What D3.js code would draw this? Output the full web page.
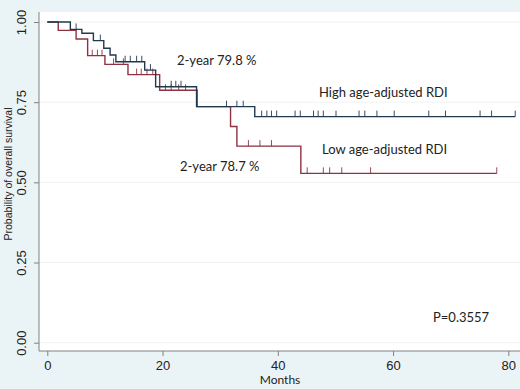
<!DOCTYPE html>
<html>
<head>
<meta charset="utf-8">
<script src="https://cdn.jsdelivr.net/npm/d3@7"></script>
<style>
  body { margin: 0; background: #eaf4f6; }
  svg { display: block; }
</style>
</head>
<body>
<svg class="chart"></svg>
<script>
// event times (months) and survival after each event
const highTimes = [4.0, 6.0, 8.0, 9.8, 10.9, 11.9, 16.9, 18.8, 25.9, 36.0];
const highSurv  = [0.977, 0.965, 0.942, 0.918, 0.897, 0.876, 0.850, 0.798, 0.736, 0.705];
const highCensor = [5.0, 9.2, 13.5, 14.4, 15.5, 16.4, 17.9, 21.5, 22.3, 23.2, 31.1, 32.9, 34.0,
  37.2, 38.1, 38.9, 39.8, 43.0, 43.9, 46.2, 47.0, 47.9, 50.1, 54.1, 55.1, 57.2, 60.2,
  66.2, 69.1, 75.1, 77.1, 81.2];

const lowTimes = [1.9, 5.0, 7.0, 10.0, 14.0, 19.5, 26.0, 31.8, 32.9, 44.0];
const lowSurv  = [0.974, 0.947, 0.895, 0.868, 0.836, 0.787, 0.736, 0.674, 0.613, 0.528];
const lowCensor = [7.8, 8.7, 9.5, 11.5, 13.2, 15.5, 16.3, 17.3, 18.3, 20.5, 21.5, 22.8, 24.0,
  34.9, 36.9, 38.9, 45.1, 47.9, 49.0, 51.1, 56.1, 78.0];

const xTicks = [0, 20, 40, 60, 80];
const yTicks = [0, 0.25, 0.5, 0.75, 1];

const width = 520, height = 389;
const svg = d3.select('.chart').attr('width', width).attr('height', height);

const x = d3.scaleLinear().domain([0, 80]).range([47.3, 508.3]);
const y = d3.scaleLinear().domain([0, 1]).range([342.7, 22]);

// plot region
const plotLeft = 39, plotTop = 12, plotRight = 520, plotBottom = 351;
svg.append('rect')
  .attr('x', plotLeft).attr('y', plotTop)
  .attr('width', plotRight - plotLeft).attr('height', plotBottom - plotTop)
  .attr('fill', '#ffffff');

// faint gridlines
svg.selectAll('.grid').data(yTicks).enter().append('line')
  .attr('x1', plotLeft).attr('x2', plotRight)
  .attr('y1', d => y(d)).attr('y2', d => y(d))
  .attr('stroke', '#f1f4f4').attr('stroke-width', 1);

// axes
const yAxis = svg.append('g')
  .attr('transform', `translate(${plotLeft},0)`)
  .call(d3.axisLeft(y).tickValues(yTicks).tickFormat(d3.format('.2f')).tickSize(5).tickSizeOuter(0));
yAxis.select('.domain').attr('d', `M0,${plotTop}V${plotBottom}`).attr('stroke', '#808080');
yAxis.selectAll('.tick line').attr('stroke', '#808080');
yAxis.selectAll('.tick text')
  .attr('transform', 'rotate(-90)')
  .attr('x', 0).attr('y', -13).attr('dy', 0)
  .attr('text-anchor', 'middle')
  .style('font-family', 'Liberation Sans, Arial, sans-serif')
  .style('font-size', '13px')
  .attr('fill', '#222');

const xAxis = svg.append('g')
  .attr('transform', `translate(0,${plotBottom})`)
  .call(d3.axisBottom(x).tickValues(xTicks).tickSize(5).tickSizeOuter(0));
xAxis.select('.domain').attr('d', `M${plotLeft},0H${plotRight}`).attr('stroke', '#808080');
xAxis.selectAll('.tick line').attr('stroke', '#808080');
xAxis.selectAll('.tick text')
  .attr('y', 10)
  .style('font-family', 'Liberation Sans, Arial, sans-serif')
  .style('font-size', '13px')
  .attr('fill', '#222');

svg.append('text')
  .attr('x', 280).attr('y', 384)
  .attr('text-anchor', 'middle')
  .style('font-family', 'Lato, sans-serif').style('font-size', '12px')
  .attr('fill', '#222')
  .text('Months');

svg.append('text')
  .attr('transform', 'translate(12,174) rotate(-90)')
  .attr('text-anchor', 'middle')
  .style('font-family', 'Liberation Sans, Arial, sans-serif').style('font-size', '10.5px')
  .attr('fill', '#222')
  .text('Probability of overall survival');

// survival curves
function survAt(times, surv, t) {
  let s = 1;
  times.forEach((tt, i) => { if (tt <= t) s = surv[i]; });
  return s;
}

const line = d3.line().x(d => x(d[0])).y(d => y(d[1])).curve(d3.curveStepAfter);

function drawCurve(times, surv, censor, color) {
  const end = d3.max(censor.concat(times));
  const pts = [[0, 1]].concat(times.map((t, i) => [t, surv[i]]));
  pts.push([end, surv[surv.length - 1]]);
  svg.append('path')
    .datum(pts)
    .attr('d', line)
    .attr('fill', 'none')
    .attr('stroke', color)
    .attr('stroke-width', 1.4);
  svg.selectAll(null).data(censor).enter().append('line')
    .attr('x1', d => x(d)).attr('x2', d => x(d))
    .attr('y1', d => y(survAt(times, surv, d)))
    .attr('y2', d => y(survAt(times, surv, d)) - 6)
    .attr('stroke', color)
    .attr('stroke-width', 0.9);
}

drawCurve(lowTimes, lowSurv, lowCensor, '#8e3141');
drawCurve(highTimes, highSurv, highCensor, '#22384f');

// annotations
const notes = [
  { text: '2-year 79.8 %', x: 177, y: 65 },
  { text: 'High age-adjusted RDI', x: 319, y: 97 },
  { text: 'Low age-adjusted RDI', x: 322, y: 154 },
  { text: '2-year 78.7 %', x: 180, y: 171 },
  { text: 'P=0.3557', x: 433, y: 322 }
];
svg.selectAll('.note').data(notes).enter().append('text')
  .attr('x', d => d.x).attr('y', d => d.y)
  .style('font-family', 'Lato, sans-serif').style('font-size', '13px')
  .attr('fill', '#222')
  .text(d => d.text);
</script>
</body>
</html>
